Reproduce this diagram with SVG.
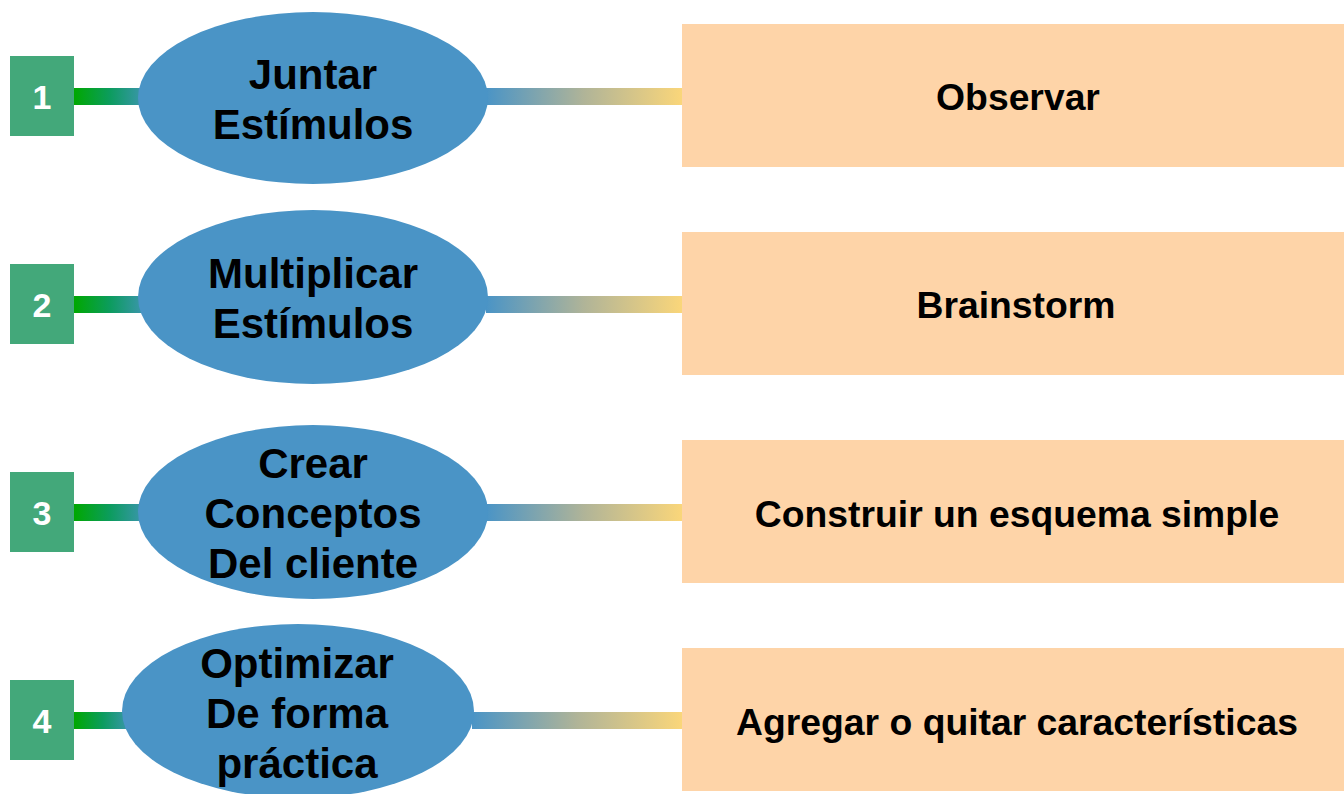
<svg xmlns="http://www.w3.org/2000/svg" width="1344" height="794" viewBox="0 0 1344 794">
<defs>
<linearGradient id="gl" x1="0" y1="0" x2="1" y2="0">
<stop offset="0" stop-color="#00a800"/>
<stop offset="0.45" stop-color="#0c9c5e"/>
<stop offset="1" stop-color="#4a94c6"/>
</linearGradient>
<linearGradient id="gr" x1="0" y1="0" x2="1" y2="0">
<stop offset="0" stop-color="#4a94c6"/>
<stop offset="0.5" stop-color="#b0b498"/>
<stop offset="1" stop-color="#fad67a"/>
</linearGradient>
<style>
.sq{fill:#43a87a}
.num{fill:#fff;font-family:"Liberation Sans",Arial,sans-serif;font-weight:bold;font-size:34px;text-anchor:middle}
.el{fill:#4a94c6}
.et{fill:#000;font-family:"Liberation Sans",Arial,sans-serif;font-weight:bold;font-size:42px;text-anchor:middle}
.bx{fill:#fed4a8}
.bt{fill:#000;font-family:"Liberation Sans",Arial,sans-serif;font-weight:bold;font-size:37.3px;text-anchor:middle}
</style>
</defs>
<g id="connectors">
<rect x="74" y="88" width="80" height="17" fill="url(#gl)"/>
<rect x="486" y="88" width="196" height="17" fill="url(#gr)"/>
<rect x="74" y="296" width="80" height="17" fill="url(#gl)"/>
<rect x="486" y="296" width="196" height="17" fill="url(#gr)"/>
<rect x="74" y="504" width="80" height="17" fill="url(#gl)"/>
<rect x="486" y="504" width="196" height="17" fill="url(#gr)"/>
<rect x="74" y="712" width="64" height="17" fill="url(#gl)"/>
<rect x="472" y="712" width="210" height="17" fill="url(#gr)"/>
</g>
<g id="n1">
<rect class="sq" x="10" y="56" width="64" height="80"/>
<text class="num" x="42" y="109">1</text>
<ellipse class="el" cx="313" cy="98" rx="175" ry="86"/>
<text class="et" x="313" y="89">Juntar</text>
<text class="et" x="313" y="139">Estímulos</text>
</g>
<g id="b1">
<rect class="bx" x="682" y="24" width="662" height="143"/>
<text class="bt" x="1018" y="110">Observar</text>
</g>
<g id="n2">
<rect class="sq" x="10" y="264" width="64" height="80"/>
<text class="num" x="42" y="317">2</text>
<ellipse class="el" cx="313" cy="297" rx="175" ry="87"/>
<text class="et" x="313" y="288">Multiplicar</text>
<text class="et" x="313" y="338">Estímulos</text>
</g>
<g id="b2">
<rect class="bx" x="682" y="232" width="662" height="143"/>
<text class="bt" x="1016" y="318">Brainstorm</text>
</g>
<g id="n3">
<rect class="sq" x="10" y="472" width="64" height="80"/>
<text class="num" x="42" y="525">3</text>
<ellipse class="el" cx="313" cy="512" rx="175" ry="87"/>
<text class="et" x="313" y="478">Crear</text>
<text class="et" x="313" y="528">Conceptos</text>
<text class="et" x="313" y="578">Del cliente</text>
</g>
<g id="b3">
<rect class="bx" x="682" y="440" width="662" height="143"/>
<text class="bt" x="1017" y="527">Construir un esquema simple</text>
</g>
<g id="n4">
<rect class="sq" x="10" y="680" width="64" height="80"/>
<text class="num" x="42" y="733">4</text>
<ellipse class="el" cx="298" cy="711" rx="176" ry="87"/>
<text class="et" x="297" y="678">Optimizar</text>
<text class="et" x="297" y="728">De forma</text>
<text class="et" x="297" y="778">práctica</text>
</g>
<g id="b4">
<rect class="bx" x="682" y="648" width="662" height="143"/>
<text class="bt" x="1017" y="735">Agregar o quitar características</text>
</g>
</svg>
